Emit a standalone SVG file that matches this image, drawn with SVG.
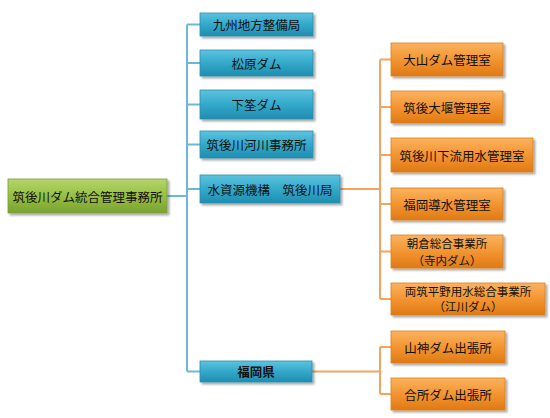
<svg xmlns="http://www.w3.org/2000/svg" width="550" height="418" viewBox="0 0 550 418">
<defs>
<linearGradient id="gB" x1="0" y1="0" x2="0" y2="1"><stop offset="0" stop-color="#5cc3de"/><stop offset="0.5" stop-color="#33a9cb"/><stop offset="1" stop-color="#1f8db0"/></linearGradient>
<linearGradient id="gG" x1="0" y1="0" x2="0" y2="1"><stop offset="0" stop-color="#b5d66a"/><stop offset="0.5" stop-color="#97bf44"/><stop offset="1" stop-color="#7aa22e"/></linearGradient>
<linearGradient id="gO" x1="0" y1="0" x2="0" y2="1"><stop offset="0" stop-color="#fbb25e"/><stop offset="0.5" stop-color="#f39532"/><stop offset="1" stop-color="#e07a14"/></linearGradient>
<filter id="sh" x="-10%" y="-20%" width="130%" height="160%"><feDropShadow dx="2" dy="2" stdDeviation="1.2" flood-color="#000" flood-opacity="0.35"/></filter>
</defs>
<style>
.b{fill:url(#gB);stroke:#2a8fae;stroke-width:0.8;filter:url(#sh)}
.g{fill:url(#gG);stroke:#7a9e35;stroke-width:0.8;filter:url(#sh)}
.o{fill:url(#gO);stroke:#d9801c;stroke-width:0.8;filter:url(#sh)}
.t{font-family:"Noto Sans CJK JP","Noto Sans CJK SC",sans-serif;font-size:12.5px;fill:#111;text-anchor:middle;dominant-baseline:central}
.s{font-size:11.5px}
.cb{stroke:#6bb9d6;stroke-width:2;fill:none}
.co{stroke:#f2a462;stroke-width:2;fill:none}
</style>
<g id="connectors">
<path class="cb" d="M167 196H187M187 24.5V371.5M187 24.5H200M187 63H200M187 104.5H200M187 144.5H200M187 189H200M187 371.5H200"/>
<path class="co" d="M340 189H380M380 59.5V299M380 59.5H391M380 107H391M380 155H391M380 204H391M380 251.5H391M380 299H391"/>
<path class="co" d="M312 371.5H380M380 347V394M380 347H391M380 394H391"/>
</g>
<g id="n0"><rect class="g" x="8" y="179" width="159" height="34"/><text class="t" x="87.5" y="196">筑後川ダム統合管理事務所</text></g>
<g id="n1"><rect class="b" x="200" y="13" width="113" height="23"/><text class="t" x="256.5" y="24.5">九州地方整備局</text></g>
<g id="n2"><rect class="b" x="200" y="50" width="113" height="26"/><text class="t" x="256.5" y="63">松原ダム</text></g>
<g id="n3"><rect class="b" x="200" y="90" width="113" height="29"/><text class="t" x="256.5" y="104.5">下筌ダム</text></g>
<g id="n4"><rect class="b" x="200" y="131" width="113" height="27"/><text class="t" x="256.5" y="144.5">筑後川河川事務所</text></g>
<g id="n5"><rect class="b" x="200" y="175" width="140" height="28"/><text class="t" x="270" y="189">水資源機構　筑後川局</text></g>
<g id="n6"><rect class="b" x="200" y="361" width="112" height="21"/><text class="t" x="256" y="371.5" font-weight="bold">福岡県</text></g>
<g id="n7"><rect class="o" x="391" y="43" width="112" height="33"/><text class="t" x="447" y="59.5">大山ダム管理室</text></g>
<g id="n8"><rect class="o" x="391" y="91" width="112" height="32"/><text class="t" x="447" y="107">筑後大堰管理室</text></g>
<g id="n9"><rect class="o" x="391" y="138" width="142" height="34"/><text class="t" x="462" y="155">筑後川下流用水管理室</text></g>
<g id="n10"><rect class="o" x="391" y="188" width="112" height="32"/><text class="t" x="447" y="204">福岡導水管理室</text></g>
<g id="n11"><rect class="o" x="391" y="235" width="112" height="33"/><text class="t s" x="447" y="243">朝倉総合事業所</text><text class="t s" x="447" y="260">（寺内ダム）</text></g>
<g id="n12"><rect class="o" x="391" y="283" width="154" height="32"/><text class="t s" x="468" y="291">両筑平野用水総合事業所</text><text class="t s" x="468" y="306">（江川ダム）</text></g>
<g id="n13"><rect class="o" x="391" y="331" width="114" height="32"/><text class="t" x="448" y="347">山神ダム出張所</text></g>
<g id="n14"><rect class="o" x="391" y="378" width="114" height="32"/><text class="t" x="448" y="394">合所ダム出張所</text></g>
</svg>
